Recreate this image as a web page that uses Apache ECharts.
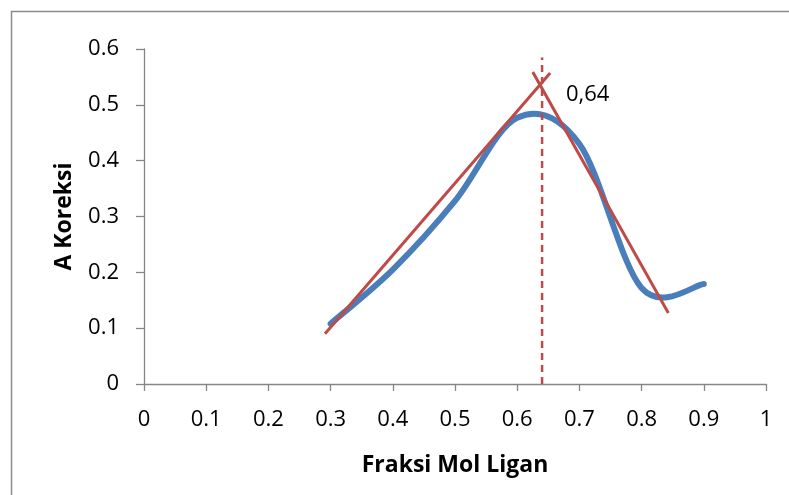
<!DOCTYPE html>
<html>
<head>
<meta charset="utf-8">
<script src="https://cdn.jsdelivr.net/npm/echarts@6/dist/echarts.min.js"></script>
<style>html,body{margin:0;padding:0;background:#fff}#c{width:789px;height:495px}</style>
</head>
<body>
<div id="c"></div>
<script>
// Data
const xFraction = [0.3, 0.4, 0.5, 0.6, 0.7, 0.8, 0.9];
const aKoreksi = [0.108, 0.205, 0.328, 0.477, 0.43, 0.172, 0.179];
const tangentLeft = [[0.291, 0.09], [0.653, 0.557]];
const tangentRight = [[0.625, 0.559], [0.843, 0.127]];
const intersectX = 0.64;
const dashedLine = [[intersectX, 0], [intersectX, 0.585]];
const intersectLabel = '0,64';
const xTitle = 'Fraksi Mol Ligan';
const yTitle = 'A Koreksi';

const chart = echarts.init(document.getElementById('c'));
const font = 'Open Sans';
const axisCol = '#868686';

// Smooth curve through the data points (Catmull-Rom style, like a spreadsheet "smoothed line")
function renderSmooth(params, api) {
  if (params.dataIndex !== 0) return null;
  const pts = xFraction.map((x, i) => api.coord([x, aKoreksi[i]]));
  let d = 'M' + pts[0][0] + ' ' + pts[0][1];
  for (let i = 0; i < pts.length - 1; i++) {
    const p0 = pts[i - 1] || pts[i];
    const p1 = pts[i];
    const p2 = pts[i + 1];
    const p3 = pts[i + 2] || pts[i + 1];
    const c1 = [p1[0] + (p2[0] - p0[0]) / 6, p1[1] + (p2[1] - p0[1]) / 6];
    const c2 = [p2[0] - (p3[0] - p1[0]) / 6, p2[1] - (p3[1] - p1[1]) / 6];
    d += ' C' + c1[0] + ' ' + c1[1] + ' ' + c2[0] + ' ' + c2[1] + ' ' + p2[0] + ' ' + p2[1];
  }
  return {
    type: 'path',
    shape: { pathData: d },
    style: { fill: 'none', stroke: '#4A7EBB', lineWidth: 6, lineCap: 'round', lineJoin: 'round' }
  };
}

chart.setOption({
  animation: false,
  grid: { left: 144, right: 23, top: 49, bottom: 111 },
  xAxis: {
    type: 'value', min: 0, max: 1, interval: 0.1,
    name: xTitle, nameLocation: 'middle', nameGap: 70,
    nameTextStyle: { fontFamily: font, fontWeight: 'bold', fontSize: 23, color: '#000' },
    axisLine: { show: true, lineStyle: { color: axisCol, width: 1.3 } },
    axisTick: { show: true, length: 7, lineStyle: { color: axisCol, width: 1.3 } },
    axisLabel: { fontFamily: font, fontSize: 22, color: '#000', margin: 25 },
    splitLine: { show: false }
  },
  yAxis: {
    type: 'value', min: 0, max: 0.6, interval: 0.1,
    name: yTitle, nameLocation: 'middle', nameGap: 68, nameRotate: 90,
    nameTextStyle: { fontFamily: font, fontWeight: 'bold', fontSize: 23, color: '#000' },
    axisLine: { show: true, lineStyle: { color: axisCol, width: 1.3 } },
    axisTick: { show: true, length: 8, lineStyle: { color: axisCol, width: 1.3 } },
    axisLabel: { fontFamily: font, fontSize: 22, color: '#000', margin: 25 },
    splitLine: { show: false }
  },
  graphic: [
    { type: 'rect', shape: { x: 11.5, y: 11.5, width: 800, height: 500 },
      style: { fill: 'none', stroke: '#8c8c8c', lineWidth: 1.5 }, z: -1 },
    { type: 'text', left: 566, top: 84,
      style: { text: intersectLabel, fontFamily: font, fontSize: 22, fill: '#000' } }
  ],
  series: [
    {
      type: 'custom', renderItem: renderSmooth,
      data: xFraction.map((x, i) => [x, aKoreksi[i]]),
      encode: { x: 0, y: 1 }
    },
    {
      type: 'line', data: tangentLeft, showSymbol: false,
      lineStyle: { color: '#BE4B48', width: 3 }
    },
    {
      type: 'line', data: tangentRight, showSymbol: false,
      lineStyle: { color: '#BE4B48', width: 3 }
    },
    {
      type: 'line', data: dashedLine, showSymbol: false,
      lineStyle: { color: '#BE4B48', width: 2.5, type: [7, 5] }
    }
  ]
});
</script>
</body>
</html>
